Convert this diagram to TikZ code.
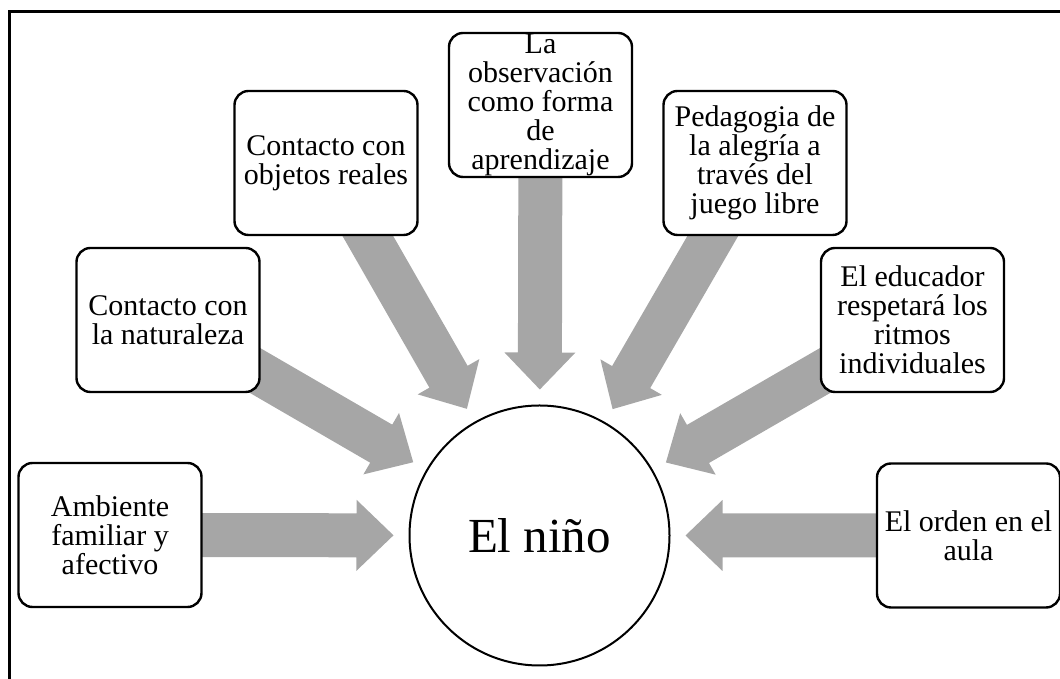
\documentclass[tikz,border=0pt]{standalone}
\usepackage{fontspec}
\setmainfont{Liberation Serif}
\usetikzlibrary{calc,backgrounds}
\definecolor{arrowgray}{HTML}{A6A6A6}
\tikzset{
  box/.style={draw, line width=2.4pt, rounded corners=14pt, fill=white,
    minimum width=183pt, minimum height=144pt, align=center, inner sep=0pt,
    font=\fontsize{30}{29}\selectfont},
  hub/.style={draw, circle, line width=2pt, minimum size=260pt, inner sep=0pt,
    fill=white, font=\fontsize{49}{52}\selectfont},
  frameline/.style={line width=3pt},
  blockarrow/.style={fill=arrowgray, draw=none}
}
\newcommand{\blockarr}[1]{%
  \coordinate (tip#1) at ($(hub.center)!146pt!(#1.center)$);
  \coordinate (hb#1) at ($(hub.center)!183pt!(#1.center)$);
  \path[blockarrow]
    ($(#1.center)!22pt!90:(hub.center)$) --
    ($(hb#1)!22pt!90:(hub.center)$) --
    ($(hb#1)!35.5pt!90:(hub.center)$) --
    (tip#1) --
    ($(hb#1)!35.5pt!-90:(hub.center)$) --
    ($(hb#1)!22pt!-90:(hub.center)$) --
    ($(#1.center)!22pt!-90:(hub.center)$) -- cycle;
}
\begin{document}
\begin{tikzpicture}[x=1pt,y=1pt]
\useasboundingbox (0,0) rectangle (1060,679);
\draw[frameline] (9,-10) -- (9,667) -- (1070,667);

\node[hub] (hub) at (539.5,143.5) {El niño};

\node[box] (b1) at (110,144) {Ambiente\\familiar y\\afectivo};
\node[box] (b2) at (168,359) {Contacto con\\la naturaleza};
\node[box] (b3) at (326,516) {Contacto con\\objetos reales};
\node[box] (b4) at (540.5,574) {La\\observación\\como forma\\de\\aprendizaje};
\node[box] (b5) at (755,516) {Pedagogia de\\la alegría a\\través del\\juego libre};
\node[box] (b6) at (912.5,359) {El educador\\respetará los\\ritmos\\individuales};
\node[box] (b7) at (968.5,143.5) {El orden en el\\aula};

\begin{pgfonlayer}{background}
\blockarr{b1}
\blockarr{b2}
\blockarr{b3}
\blockarr{b4}
\blockarr{b5}
\blockarr{b6}
\blockarr{b7}
\end{pgfonlayer}
\end{tikzpicture}
\end{document}
